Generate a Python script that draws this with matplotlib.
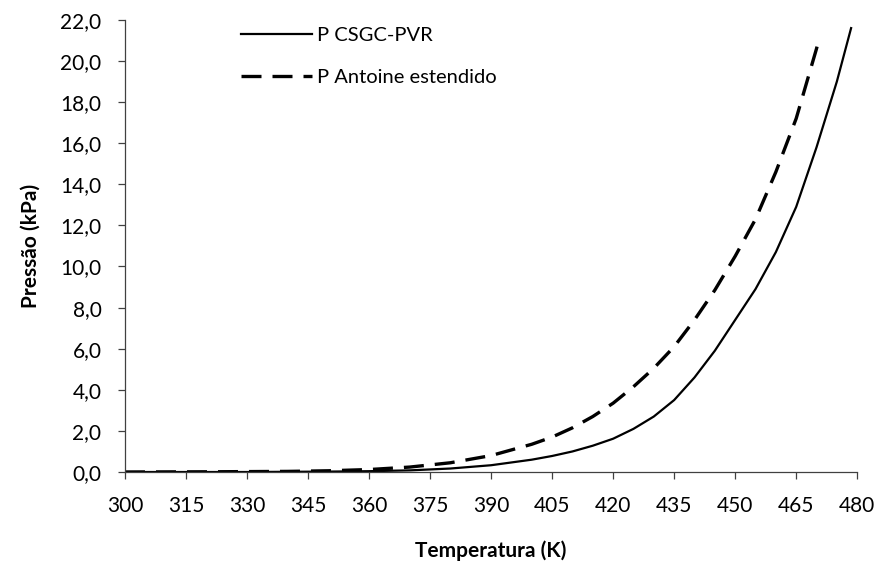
import matplotlib.pyplot as plt
import numpy as np
from matplotlib.ticker import FuncFormatter, MultipleLocator

plt.rcParams['font.family'] = ['Lato', 'DejaVu Sans']

# P CSGC-PVR (solid)
t_csgc = [300, 310, 320, 330, 340, 350, 360, 370, 380, 390, 400, 405, 410, 415,
          420, 425, 430, 435, 440, 445, 450, 455, 460, 465, 470, 475, 478.5]
p_csgc = [0.0, 0.0, 0.0, 0.0, 0.01, 0.02, 0.04, 0.08, 0.17, 0.33, 0.6, 0.78, 1.0, 1.28,
          1.62, 2.1, 2.7, 3.5, 4.6, 5.9, 7.4, 8.9, 10.7, 12.9, 15.8, 19.0, 21.6]

# P Antoine estendido (dashed)
t_ant = [300, 320, 340, 350, 360, 370, 380, 390, 400, 405, 410, 415, 420, 425,
         430, 435, 440, 445, 450, 455, 460, 465, 470, 470.5]
p_ant = [0.0, 0.01, 0.03, 0.06, 0.12, 0.24, 0.45, 0.8, 1.35, 1.7, 2.15, 2.7, 3.35, 4.15,
         5.05, 6.1, 7.4, 8.85, 10.5, 12.3, 14.6, 17.2, 20.6, 21.0]

fig = plt.figure(figsize=(8.79, 5.68), dpi=100)
ax = fig.add_axes([0.1422, 0.169, 0.833, 0.796])

ax.plot(t_csgc, p_csgc, color='black', linewidth=1.6, label='P CSGC-PVR')
ax.plot(t_ant, p_ant, color='black', linewidth=2.4, dashes=(6, 3.3), label='P Antoine estendido')

ax.set_xlim(300, 480)
ax.set_ylim(0, 22)
ax.xaxis.set_major_locator(MultipleLocator(15))
ax.yaxis.set_major_locator(MultipleLocator(2))
ax.yaxis.set_major_formatter(FuncFormatter(lambda v, p: f"{v:.1f}".replace('.', ',')))

for s in ['top', 'right']:
    ax.spines[s].set_visible(False)
for s in ['left', 'bottom']:
    ax.spines[s].set_color('#404040')
    ax.spines[s].set_linewidth(0.9)
ax.tick_params(direction='out', length=5, width=0.9, color='#404040', labelsize=15, pad=6)
ax.tick_params(axis='x', pad=12)
ax.tick_params(axis='y', pad=12)

ax.set_xlabel('Temperatura (K)', fontsize=15, fontweight='bold', labelpad=18)
ax.set_ylabel('Pressão (kPa)', fontsize=15, fontweight='bold', labelpad=14)

ax.legend(loc='upper left', bbox_to_anchor=(0.254, 0.985), bbox_transform=fig.transFigure,
          frameon=False, fontsize=14.5, handlelength=3.5, handletextpad=0.25, labelspacing=1.25)

fig.savefig('out.png', dpi=100)
